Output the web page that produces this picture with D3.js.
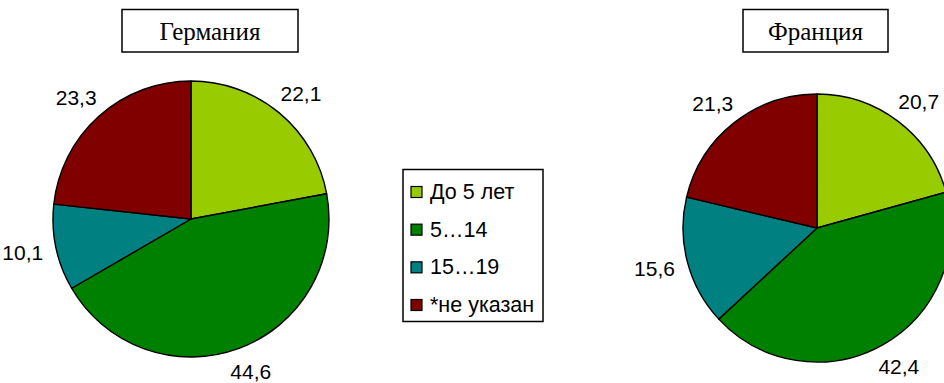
<!DOCTYPE html>
<html>
<head>
<meta charset="utf-8">
<script src="https://cdn.jsdelivr.net/npm/d3@7/dist/d3.min.js"></script>
<style>
  html, body { margin: 0; padding: 0; background: #fff; }
  svg { display: block; }
</style>
</head>
<body>
<svg id="chart" width="944" height="383"></svg>
<script>
// Age groups (legend order) and colours
const categories = ["До 5 лет", "5…14", "15…19", "*не указан"];
const colors = ["#99CC00", "#008000", "#008080", "#800000"];

// Shares per country, %
const germanyValues = [22.1, 44.6, 10.1, 23.3];
const franceValues = [20.7, 42.4, 15.6, 21.3];
const labelsGermany = ["22,1", "44,6", "10,1", "23,3"];
const labelsFrance = ["20,7", "42,4", "15,6", "21,3"];

const svg = d3.select("#chart");
const H = +svg.attr("height");
const color = d3.scaleOrdinal().domain(categories).range(colors);

const pieGen = d3.pie().sort(null).value(d => d.value);

function drawPie(cfg) {
  const data = categories.map((c, i) => ({ cat: c, value: cfg.values[i], label: cfg.labels[i] }));
  const arcs = pieGen(data);
  const arcGen = d3.arc().innerRadius(0).outerRadius(cfg.r);
  const g = svg.append("g").attr("transform", `translate(${cfg.cx},${cfg.cy})`);

  g.selectAll("path.slice")
    .data(arcs)
    .join("path")
    .attr("class", "slice")
    .attr("d", arcGen)
    .attr("fill", d => color(d.data.cat))
    .attr("stroke", "#000")
    .attr("stroke-width", 1.4)
    .attr("stroke-linejoin", "round");

  // Value labels outside each slice, pushed out by half their box
  const pad = 14, tw = 40, th = 22, fs = 21;
  g.selectAll("text.val")
    .data(arcs)
    .join("text")
    .attr("class", "val")
    .attr("x", d => {
      const a = (d.startAngle + d.endAngle) / 2;
      const ux = Math.sin(a);
      return ux * (cfg.r + pad) + ux * tw / 2;
    })
    .attr("y", d => {
      const a = (d.startAngle + d.endAngle) / 2;
      const uy = -Math.cos(a);
      const y = uy * (cfg.r + pad) + uy * th / 2;
      // keep the label inside the drawing area
      return Math.min(y, H - cfg.cy - fs * 0.45);
    })
    .attr("text-anchor", "middle")
    .attr("dominant-baseline", "central")
    .attr("font-family", "Liberation Sans, Arial, sans-serif")
    .attr("font-size", fs)
    .attr("fill", "#000")
    .text(d => d.data.label);

  // Title box
  const tb = cfg.titleBox;
  svg.append("rect")
    .attr("x", tb.x).attr("y", tb.y)
    .attr("width", tb.w).attr("height", tb.h)
    .attr("fill", "#fff")
    .attr("stroke", "#000")
    .attr("stroke-width", 1.5);
  svg.append("text")
    .attr("x", tb.x + tb.w / 2)
    .attr("y", tb.y + tb.h / 2 + 1)
    .attr("text-anchor", "middle")
    .attr("dominant-baseline", "central")
    .attr("font-family", "Liberation Serif, Times New Roman, serif")
    .attr("font-size", 25)
    .attr("fill", "#000")
    .text(cfg.title);
}

drawPie({
  title: "Германия",
  values: germanyValues,
  labels: labelsGermany,
  cx: 191, cy: 219, r: 138,
  titleBox: { x: 122, y: 9.5, w: 176, h: 42.5 }
});

drawPie({
  title: "Франция",
  values: franceValues,
  labels: labelsFrance,
  cx: 817, cy: 228, r: 134,
  titleBox: { x: 743, y: 9.5, w: 145, h: 42.5 }
});

// Legend
const legend = svg.append("g");
legend.append("rect")
  .attr("x", 403).attr("y", 169.5)
  .attr("width", 140).attr("height", 152)
  .attr("fill", "#fff")
  .attr("stroke", "#000")
  .attr("stroke-width", 1.5);

const itemY = d3.scalePoint().domain(categories).range([192, 305]);
const items = legend.selectAll("g.item")
  .data(categories)
  .join("g")
  .attr("class", "item")
  .attr("transform", d => `translate(0,${itemY(d)})`);

items.append("rect")
  .attr("x", 411).attr("y", -5.5)
  .attr("width", 11).attr("height", 11)
  .attr("fill", d => color(d))
  .attr("stroke", "#000")
  .attr("stroke-width", 1.2);

items.append("text")
  .attr("x", 430)
  .attr("y", 0)
  .attr("dominant-baseline", "central")
  .attr("font-family", "Liberation Sans, Arial, sans-serif")
  .attr("font-size", 21.5)
  .attr("fill", "#000")
  .text(d => d);
</script>
</body>
</html>
